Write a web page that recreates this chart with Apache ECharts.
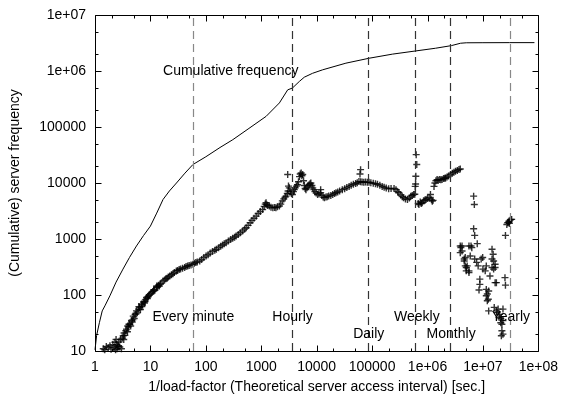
<!DOCTYPE html>
<html><head><meta charset="utf-8">
<script src="https://cdn.jsdelivr.net/npm/echarts@6/dist/echarts.min.js"></script>
<style>html,body{margin:0;padding:0;background:#fff}#c{width:561px;height:399px}</style>
</head><body><div id="c"></div>
<script>
// ---- data ----
const xTickLabels = ['1','10','100','1000','10000','100000','1e+06','1e+07','1e+08'];
const yTickLabels = ['1','10','100','1000','10000','100000','1e+06','1e+07'];
const minorMultipliers = [2, 5];

const verticalLines = [60, 3600, 86400, 604800, 2592000, 31536000];

const textLabels = [
  ['Cumulative frequency', 16.9, 1.0e6],
  ['Every minute', 10.9, 40],
  ['Hourly', 1585, 40],
  ['Daily', 45500, 20],
  ['Weekly', 249000, 40],
  ['Monthly', 964000, 20],
  ['Yearly', 1.44e7, 40]
];

const cumulative = [
  [1,10.5],[1.07,19],[1.2,32],[1.35,52],[1.51,64],[1.86,97],[2.4,170],[3.2,290],[4.2,470],
  [5.6,750],[7.5,1150],[10,1700],[13,2900],[16.9,5080],[22,7200],[29.5,10000],[42,15000],
  [58.6,21400],[100,29400],[180,43000],[307,59400],[600,94400],[1225,155000],[2125,269000],
  [3000,461000],[3650,496000],[4860,650000],[5980,775000],[8440,910000],[12800,1050000],
  [33700,1380000],[88300,1690000],[232000,2000000],[610000,2280000],[1400000,2550000],
  [2700000,2840000],[3940000,3130000],[5000000,3190000],[10000000,3200000],[30000000,3210000],
  [85000000,3210000]
];

const bandPoints = [
  [1.41,11],[1.5,10.5],[1.6,12],[1.73,11.6],[1.86,12.4],[1.95,10.8],[2.1,13],[2.2,11.5],[2.29,14.3],
  [2.35,10.5],[2.4,16],[2.45,13],[2.5,11],[2.55,12],[2.63,12.4],[2.7,14.5],[2.8,11.8],[2.9,16],[3.0,11],
  [3.1,17],[3.23,18.7],[3.3,16],[3.35,21],[3.45,19],[3.6,23],[3.7,24.6],[3.85,22],[3.9,28],[4.0,27],
  [4.1,30],[4.25,30],[4.4,28],[4.55,35],[4.7,33],[4.8,36],[4.9,42],[5.1,38],[5.3,45],[5.5,46],[5.6,52],
  [5.8,48],[6.1,56],[6.2,62],[6.4,60],[6.6,55],[6.9,69],[7.0,62],[7.2,66],[7.5,75],[7.8,72],[8.0,76],
  [8.1,82],[8.5,90],[8.8,86],[9.0,92],[9.2,96],[9.6,100],[10,105],[10.5,111],[11,115],[11.5,118],
  [11.5,124],[12,121],[12.9,136],[13,145],[13.5,140],[14,150],[14.5,145],[15,155],[15.5,162],[16.9,177],
  [18,185],[19,195],[20,200],[21,210],[22.3,218],[24,230],[25.5,240],[27,252],[29.4,268],[31,275],
  [33,285],[35,292],[38,300],[41.5,310],[44,322],[47,330],[50,338],[54,345],[58.6,355],[62,368],
  [66,380],[70,390],[77.6,405],[84,430],[92,465],[101,498],[110,525],[120,560],[132,600],[145,630],
  [155,655],[170,700],[185,745],[200,780],[215,820],[233,861],[255,920],[280,975],[305,1030],[330,1080],
  [352,1130],[385,1200],[420,1290],[460,1390],[500,1500],[535,1590],[580,1750],[630,1950],[680,2150],
  [740,2350],[810,2560],[880,2850],[960,3100],[1060,3370],[1130,3800],[1180,4200],[1220,4430],
  [1260,4100],[1310,3950],[1400,3890],[1500,3700],[1620,3600],[1740,3650],[1840,3630],[1960,3750],
  [2125,3890],[2250,4200],[2400,4800],[2550,5200],[2700,5600],[2800,5820],[2950,6500],[3050,7200],
  [3210,8200],[3350,7000],[3500,6500],[3650,6240],[3800,7000],[3940,7600],[4100,8200],[4300,8800],
  [4500,9300],[4700,10500],[4900,13000],[5050,14500],[5250,15100],[5400,13500],[5600,14200],
  [5800,11000],[6000,9000],[6200,8000],[6400,7600],[6700,8200],[7000,8800],[7300,9300],[7600,9700],
  [7850,10000],[8200,9000],[8500,8200],[8900,7600],[9300,7000],[9800,6600],[10400,6240],[11000,6400],
  [11800,6680],[12400,6000],[13100,5600],[13800,5470],[14700,5600],[15500,5700],[16500,5830],
  [18000,6000],[19500,6250],[21000,6500],[22300,6680],[24000,6900],[26000,7200],[29000,7600],
  [32000,7900],[35000,8300],[38500,8700],[42000,9100],[46000,9500],[50500,9800],[54000,10100],
  [57900,10600],[62000,10500],[66000,10400],[70800,10300],[76000,10400],[82000,10300],[88000,10300],
  [95000,10100],[105000,9900],[115000,9700],[125000,9500],[138000,9100],[152000,8700],[165000,8400],
  [180000,8100],[199000,7900],[220000,8000],[249000,8000],[270000,7600],[290000,7000],[305000,6680],
  [330000,6100],[350000,5700],[370000,5470],[400000,5200],[435000,5080],[470000,5400],[500000,5820],
  [530000,6000],[562000,6240],[590000,6300],[680000,4300],[700000,4140],[740000,4600],[770000,4300],
  [800000,4430],[850000,4800],[900000,4950],[940000,5080],[1000000,5300],[1070000,5470],[1130000,6240],
  [1180000,5000],[1220000,4740],[1260000,4900],[1310000,8700],[1360000,10000],[1420000,11000],
  [1490000,11500],[1560000,11200],[1650000,11600],[1740000,11400],[1830000,11500],[1950000,12000],
  [2050000,12200],[2120000,12300],[2250000,12800],[2400000,13400],[2600000,14200],[2800000,15000],
  [3000000,15600],[3200000,16200],[3450000,16800],[3700000,17400],[3900000,17800]
];

const spikePoints = [
  [3000,14200],[3100,8800],[11800,7600],[60500,14500],[62000,17300],[600000,8700],[610000,9600],
  [615000,13200],[625000,32100],[640000,21400]
];

const sparsePoints = [
  [3.9e6,750],[4.0e6,700],[4.2e6,611],[4.2e6,750],[3.9e6,571],[4.6e6,405],[4.6e6,440],[4.8e6,466],
  [4.8e6,331],[5.0e6,310],[5.2e6,331],[5.0e6,270],[5.6e6,270],[5.6e6,252],[5.6e6,750],[5.9e6,498],
  [6.3e6,701],[6.1e6,750],[6.8e6,5820],[7.0e6,4140],[6.8e6,1520],[7.1e6,1160],[7.9e6,826],[7.1e6,440],
  [7.7e6,383],[8.2e6,331],[8.8e6,192],[8.8e6,155],[8.5e6,123],[9.3e6,440],[9.9e6,466],[1.0e7,290],
  [1.1e7,270],[1.15e7,331],[1.15e7,126],[1.2e7,104],[1.25e7,84],[1.27e7,118],[1.15e7,97],[1.2e7,79],
  [1.27e7,52],[1.34e7,218],[1.46e7,655],[1.53e7,533],[1.56e7,405],[1.46e7,310],[1.66e7,310],
  [1.46e7,440],[1.66e7,355],[1.56e7,290],[1.66e7,166],[1.75e7,166],[1.6e7,60],[1.75e7,52],[1.88e7,56],
  [1.8e7,49],[1.95e7,40],[2.0e7,45],[2.1e7,32],[2.1e7,38],[2.2e7,30],[2.3e7,56],[2.3e7,35],[2.2e7,23],
  [2.15e7,18.7],[2.3e7,20],[2.5e7,204],[2.55e7,150],[2.55e7,1160],[2.7e7,1810],[2.8e7,1950],
  [2.9e7,2000],[2.97e7,2090],[3.0e7,1900],[3.1e7,2170],[3.2e7,2240],[3.3e7,2240]
];

// ---- chart ----
const FONT = '"Liberation Sans", Arial, Helvetica, sans-serif';
const X_MIN = 1, X_MAX = 1e8, Y_MIN = 10, Y_MAX = 1e7;
function expOf(v) { return Math.round(Math.log10(v)); }

function tickSet(minExp, maxExp) {
  const major = [], minor = [];
  for (let e = minExp; e <= maxExp; e++) major.push(Math.pow(10, e));
  for (let e = minExp; e < maxExp; e++) minorMultipliers.forEach(m => minor.push(m * Math.pow(10, e)));
  return { major, minor };
}
const xTicks = tickSet(0, xTickLabels.length - 1);
const yTicks = tickSet(1, yTickLabels.length - 1);

const PLUS = 'path://M2.8,0H4.2V2.8H7V4.2H4.2V7H2.8V4.2H0V2.8H2.8Z';
const lineColors = ['#888', '#333', '#333', '#333', '#333', '#888'];

const chart = echarts.init(document.getElementById('c'));
chart.setOption({
  animation: false,
  grid: { left: 95, right: 20, top: 15, bottom: 47 },
  xAxis: {
    type: 'log', logBase: 10, min: X_MIN, max: X_MAX, splitNumber: 8,
    axisLine: { show: false, onZero: false }, axisTick: { show: false }, splitLine: { show: false },
    axisLabel: { color: '#000', fontSize: 14, fontFamily: FONT, margin: 9,
      formatter: v => xTickLabels[expOf(v)] },
    name: '1/load-factor (Theoretical server access interval) [sec.]',
    nameLocation: 'middle', nameGap: 29,
    nameTextStyle: { color: '#000', fontSize: 14, fontFamily: FONT }
  },
  yAxis: {
    type: 'log', logBase: 10, min: Y_MIN, max: Y_MAX, splitNumber: 6,
    axisLine: { show: false, onZero: false }, axisTick: { show: false }, splitLine: { show: false },
    axisLabel: { color: '#000', fontSize: 14, fontFamily: FONT, margin: 9,
      formatter: v => yTickLabels[expOf(v)] },
    name: '(Cumulative) server frequency',
    nameLocation: 'middle', nameGap: 73,
    nameTextStyle: { color: '#000', fontSize: 14, fontFamily: FONT }
  },
  series: [
    {
      type: 'line', data: cumulative, showSymbol: false,
      lineStyle: { color: '#000', width: 1 }, z: 3,
      markLine: {
        silent: true, symbol: ['none', 'none'], label: { show: false },
        lineStyle: { type: [8, 5], width: 1.2 },
        data: verticalLines.map((v, i) => ({ xAxis: v, lineStyle: { color: lineColors[i], type: [8, 5], width: 1.2 } }))
      }
    },
    {
      type: 'scatter',
      data: bandPoints.concat(spikePoints, sparsePoints),
      symbol: PLUS, symbolSize: 7, itemStyle: { color: '#000' }, z: 4
    }
  ]
});

// frame, inward ticks and in-plot texts: positions come from the chart's own scales
const P = (x, y) => chart.convertToPixel({ xAxisIndex: 0, yAxisIndex: 0 }, [x, y]);
const c0 = P(X_MIN, Y_MIN), c1 = P(X_MAX, Y_MAX);
const L = Math.round(c0[0]) + 0.5, B = Math.round(c0[1]) + 0.5;
const R = Math.round(c1[0]) + 0.5, T = Math.round(c1[1]) + 0.5;
const lineStyle = { stroke: '#000', lineWidth: 1 };
const g = [];
g.push({ type: 'rect', z: 100, silent: true, shape: { x: L, y: T, width: R - L, height: B - T },
  style: { fill: 'transparent', stroke: '#000', lineWidth: 1 } });
function seg(x1, y1, x2, y2) {
  g.push({ type: 'line', z: 100, silent: true, shape: { x1, y1, x2, y2 }, style: lineStyle });
}
[[xTicks.major, 6], [xTicks.minor, 3]].forEach(([vals, len]) => vals.forEach(v => {
  const x = Math.round(P(v, Y_MIN)[0]) + 0.5;
  seg(x, B, x, B - len); seg(x, T, x, T + len);
}));
[[yTicks.major, 6], [yTicks.minor, 3]].forEach(([vals, len]) => vals.forEach(v => {
  const y = Math.round(P(X_MIN, v)[1]) + 0.5;
  seg(L, y, L + len, y); seg(R, y, R - len, y);
}));
textLabels.forEach(t => {
  const p = P(t[1], t[2]);
  g.push({ type: 'text', z: 100, silent: true, x: p[0], y: p[1],
    style: { text: t[0], fill: '#000', font: '14px ' + FONT, align: 'left', verticalAlign: 'middle',
      textAlign: 'left', textVerticalAlign: 'middle' } });
});
chart.setOption({ graphic: g });
</script>
</body></html>
